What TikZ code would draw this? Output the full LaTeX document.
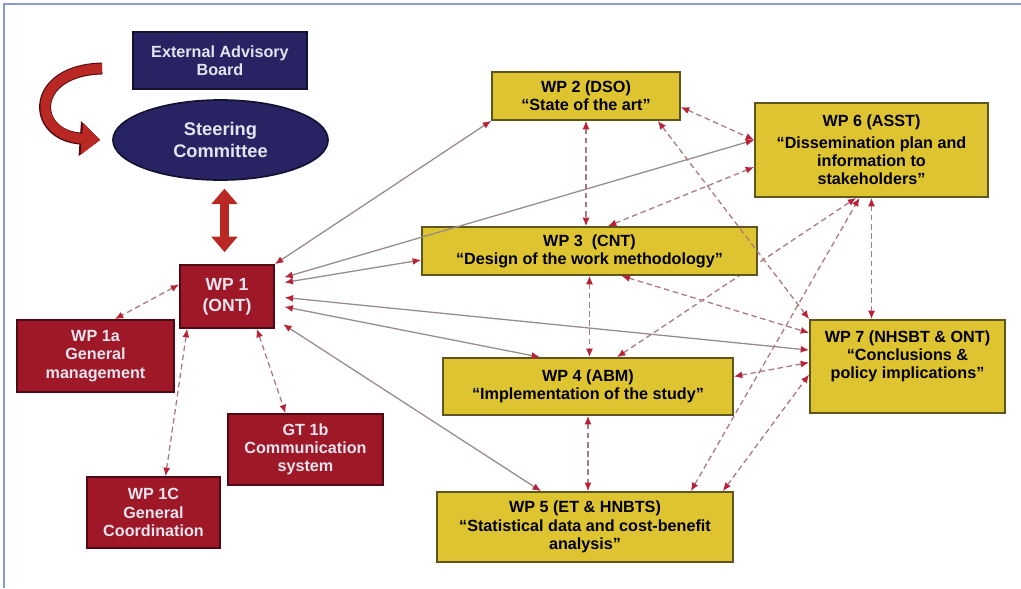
\documentclass[tikz,border=0pt]{standalone}
\usepackage{fontspec}
\setmainfont{Liberation Sans}
\usetikzlibrary{arrows.meta,shapes.geometric}
\definecolor{navyfill}{RGB}{40,36,100}
\definecolor{navyedge}{RGB}{20,18,50}
\definecolor{redfill}{RGB}{158,24,40}
\definecolor{rededge}{RGB}{80,10,20}
\definecolor{wpyellow}{RGB}{222,196,48}
\definecolor{wpedge}{RGB}{95,85,30}
\definecolor{boxtext}{RGB}{228,228,238}
\definecolor{linkgray}{RGB}{150,138,138}
\definecolor{dashgray}{RGB}{170,120,125}
\definecolor{tipred}{RGB}{185,35,55}
\definecolor{bigred}{RGB}{185,40,35}
\definecolor{framecol}{RGB}{140,155,205}

\begin{document}
\begin{tikzpicture}[x=0.025cm,y=-0.025cm,
	box/.style={draw, line width=1.2pt, align=center, inner sep=2pt, font=\fontsize{11.5}{13}\selectfont\bfseries},
	wpbox/.style={box, draw=wpedge, fill=wpyellow, text=black},
	redbox/.style={box, draw=rededge, fill=redfill, text=boxtext},
	navybox/.style={box, draw=navyedge, fill=navyfill, text=boxtext},
	solidlink/.style={draw=linkgray, line width=0.9pt, {Latex[color=tipred,length=6pt,width=5pt]}-{Latex[color=tipred,length=6pt,width=5pt]}},
	fromwp1/.style={solidlink, shorten <=7pt},
	dashlink/.style={solidlink, draw=dashgray, dash pattern=on 4pt off 2.5pt},
	bigarrow/.style={draw=bigred, line width=7pt, -{Triangle[length=13pt,width=22pt]}}]
			\useasboundingbox (0,0) rectangle (1021,588);
			\draw[framecol, line width=1.5pt] (4,588) -- (4,4) -- (1021,4);

			\node[navybox, minimum width=4.35cm, minimum height=1.425cm] (eab) at (220,60.5) {External Advisory\\Board};
			\node[navybox, ellipse, minimum width=5.375cm, minimum height=2cm, font=\fontsize{13}{15}\selectfont\bfseries] (steer) at (220.5,140) {Steering\\Committee};
			\node[redbox, minimum width=2.35cm, minimum height=1.575cm, font=\fontsize{12.5}{15}\selectfont\bfseries] (wp1) at (227,296.5) {WP 1\\(ONT)};
			\node[redbox, minimum width=3.925cm, minimum height=1.8cm] (wp1a) at (95.5,356) {WP 1a\\General\\management};
			\node[redbox, minimum width=3.875cm, minimum height=1.775cm] (gt1b) at (305.5,449.5) {GT 1b\\Communication\\system};
			\node[redbox, minimum width=3.325cm, minimum height=1.775cm] (wp1c) at (153.5,512.5) {WP 1C\\General\\Coordination};

			\node[wpbox, minimum width=4.7cm, minimum height=1.2cm] (wp2) at (586,96) {WP 2 (DSO)\\“State of the art”};
			\node[wpbox, minimum width=5.825cm, minimum height=2.35cm] (wp6) at (871.5,150) {WP 6 (ASST)\\[2pt]“Dissemination plan and\\information to\\stakeholders”};
			\node[wpbox, minimum width=4.875cm, minimum height=2.325cm] (wp7) at (907.5,366.5) {WP 7 (NHSBT \& ONT)\\“Conclusions \&\\policy implications”\\[4pt]};
			\node[wpbox, minimum width=7.25cm, minimum height=1.425cm] (wp4) at (588,386.5) {WP 4 (ABM)\\“Implementation of the study”};
			\node[wpbox, minimum width=7.4cm, minimum height=1.75cm] (wp5) at (585,527) {WP 5 (ET \& HNBTS)\\“Statistical data and cost-benefit\\analysis”};
			\draw[dashlink] ([xshift=0.725cm]wp4.north) -- ([xshift=2.55cm]wp6.south west);
			\node[wpbox, minimum width=8.375cm, minimum height=1.2cm] (wp3) at (589.5,251) {WP 3 \ (CNT)\\“Design of the work methodology”};

			\draw[bigarrow, preaction={draw=rededge, line width=8.5pt, -{Triangle[length=14.5pt,width=24pt]}}] ([shift={(-0.75cm,-0.2cm)}]eab.west) .. controls (30,70) and (30,135) .. ([xshift=-0.3cm]steer.west);
			\draw[bigarrow, line width=6pt, {Triangle[length=11pt,width=18pt]}-{Triangle[length=11pt,width=18pt]}, shorten <=5.5pt, shorten >=8.5pt] ([xshift=0.1cm]steer.south) -- ([xshift=0.1cm]steer.south |- wp1.north);

			\draw[solidlink] (wp1.north east) -- (wp2.south west);
			\draw[fromwp1] ([yshift=0.41cm]wp1.east) -- ([yshift=0.25cm]wp6.west);
			\draw[fromwp1] ([yshift=0.31cm]wp1.east) -- ([yshift=-0.225cm]wp3.west);
			\draw[fromwp1] (wp1.east) -- ([yshift=0.41cm]wp7.west);
			\draw[fromwp1] ([yshift=-0.21cm]wp1.east) -- ([xshift=-1.2cm]wp4.north);
			\draw[fromwp1] ([yshift=0.25cm]wp1.south east) -- ([xshift=-1.1cm]wp5.north);

			\draw[dashlink] (wp2.south) -- (wp2.south |- wp3.north);
			\draw[dashlink] (wp3.south) -- (wp3.south |- wp4.north);
			\draw[dashlink] (wp4.south) -- (wp4.south |- wp5.north);
			\draw[dashlink] ([yshift=-0.275cm]wp2.east) -- ([yshift=0.25cm]wp6.west);
			\draw[dashlink] ([xshift=-0.575cm]wp2.south east) -- (wp7.north west);
			\draw[dashlink] ([xshift=0.46cm]wp3.north) -- ([yshift=-0.425cm]wp6.west);
			\draw[dashlink] ([xshift=0.8cm]wp3.south) -- ([yshift=0.84cm]wp7.west);
			\draw[dashlink] (wp6.south) -- (wp6.south |- wp7.north);
			\draw[dashlink] ([xshift=-1.075cm]wp5.north east) -- ([xshift=-0.3cm]wp6.south);
			\draw[dashlink] ([xshift=-0.275cm]wp5.north east) -- ([yshift=-0.2cm]wp7.west);
			\draw[dashlink] ([yshift=0.25cm]wp4.east) -- ([yshift=0.1cm]wp7.west);

			\draw[dashlink] ([yshift=0.3cm]wp1.west) -- ([xshift=-1.5cm]wp1a.north east);
			\draw[dashlink] ([xshift=0.2cm]wp1.south west) -- ([xshift=0.3cm]wp1c.north);
			\draw[dashlink] ([xshift=-0.45cm]wp1.south east) -- ([xshift=-0.5cm]gt1b.north);
		\end{tikzpicture}
\end{document}
